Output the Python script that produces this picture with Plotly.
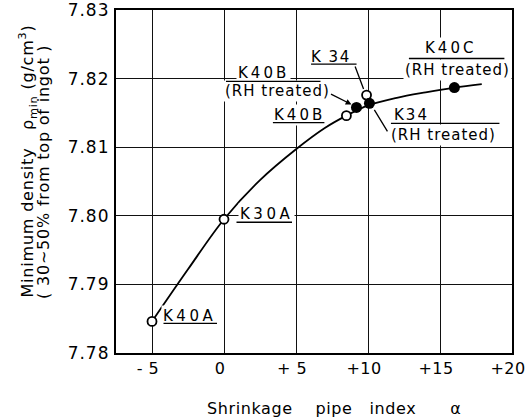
import plotly.graph_objects as go

# ---------------- data ----------------
open_names = ["K40A", "K30A", "K40B", "K 34"]
open_x = [-5.0, 0.0, 8.5, 9.9]
open_y = [7.7846, 7.7995, 7.8146, 7.8176]

rh_names = ["K40B", "K34", "K40C"]
rh_sub = ["(RH treated)", "(RH treated)", "(RH treated)"]
rh_x = [9.2, 10.1, 16.0]
rh_y = [7.8158, 7.8164, 7.8187]

curve_x = [-5.0, -2.5, 0.0, 2.5, 5.0, 7.0, 8.5, 10.0, 12.0, 14.0, 16.0, 17.9]
curve_y = [7.7846, 7.7922, 7.7995, 7.8052, 7.8097, 7.8128, 7.8146, 7.8161, 7.8172, 7.8180, 7.8187, 7.8192]

x_ticks = [-5, 0, 5, 10, 15, 20]
x_ticklabels = ["- 5", "0", "+ 5", "+10", "+15", "+20"]
y_ticks = [7.78, 7.79, 7.80, 7.81, 7.82, 7.83]
y_ticklabels = ["7.78", "7.79", "7.80", "7.81", "7.82", "7.83"]

x_title = "Shrinkage    pipe   index      α"
y_title_1 = "Minimum density   ρ<sub>min</sub> (g/cm<sup>3</sup>)"
y_title_2 = "( 30~50% from top of ingot )"

X_RANGE = [-7.5, 20]
Y_RANGE = [7.78, 7.83]
FONT = "DejaVu Sans"


def ls(text, px):
    return f'<span style="letter-spacing:{px}px">{text}</span>'


fig = go.Figure()

fig.add_trace(go.Scatter(
    x=curve_x, y=curve_y, mode="lines", line=dict(color="black", width=1.8, shape="spline", smoothing=1.0),
    hoverinfo="skip", showlegend=False))
fig.add_trace(go.Scatter(
    x=open_x, y=open_y, mode="markers",
    marker=dict(symbol="circle", size=9, color="white", line=dict(color="black", width=1.8)),
    showlegend=False))
fig.add_trace(go.Scatter(
    x=rh_x, y=rh_y, mode="markers",
    marker=dict(symbol="circle", size=11, color="black", line=dict(color="black", width=0)),
    showlegend=False))

annotations = []


def text_ann(x, y, dx, dy, text, spacing, size=15):
    annotations.append(dict(
        x=x, y=y, xref="x", yref="y", xshift=dx, yshift=-dy, text=ls(text, spacing),
        showarrow=False, xanchor="center", yanchor="middle", bgcolor="white", borderpad=1,
        font=dict(family=FONT, size=size, color="black")))


line_anns = []


def seg(x, y, h, t, head=0):
    # h, t = (dx, dy) pixel offsets (screen down positive) of arrow head and tail from point
    line_anns.append(dict(
        x=x, y=y, xref="x", yref="y", xshift=h[0], yshift=-h[1], text="",
        showarrow=True, ax=t[0] - h[0], ay=t[1] - h[1], axref="pixel", ayref="pixel",
        arrowhead=head, arrowsize=0.9, arrowwidth=1.3, arrowcolor="black", standoff=0, startstandoff=0))


# open-circle labels
text_ann(open_x[0], open_y[0], 37, -5, open_names[0], 3.5)
seg(open_x[0], open_y[0], (65, 2), (10, 2))
text_ann(open_x[1], open_y[1], 42, -5, open_names[1], 3.5)
seg(open_x[1], open_y[1], (68, 3), (11, 3))
text_ann(open_x[2], open_y[2], -47, -1, open_names[2], 3)
seg(open_x[2], open_y[2], (-22, 7), (-75, 7))
text_ann(open_x[3], open_y[3], -36, -38, open_names[3], 1.5)
seg(open_x[3], open_y[3], (-10, -31), (-57, -31))
seg(open_x[3], open_y[3], (-3, -6), (-12, -30))

# RH treated labels
text_ann(rh_x[0], rh_y[0], -93, -34, rh_names[0], 3)
text_ann(rh_x[0], rh_y[0], -79, -16, rh_sub[0], 1)
seg(rh_x[0], rh_y[0], (-36, -26), (-132, -26))
seg(rh_x[0], rh_y[0], (-5, -3), (-27, -14), head=2)

text_ann(rh_x[1], rh_y[1], 42, 12, rh_names[1], 2)
text_ann(rh_x[1], rh_y[1], 74, 32, rh_sub[1], 1)
seg(rh_x[1], rh_y[1], (130, 20), (20, 20))
seg(rh_x[1], rh_y[1], (18, 28), (4, 5))

text_ann(rh_x[2], rh_y[2], -4, -40, rh_names[2], 3)
text_ann(rh_x[2], rh_y[2], 3, -18, rh_sub[2], 1)
seg(rh_x[2], rh_y[2], (50, -29), (-47, -29))

# axis titles
annotations.append(dict(
    x=0.552, y=0, xref="paper", yref="paper", yshift=-55, text=ls(x_title, 0.6), showarrow=False,
    xanchor="center", yanchor="middle", font=dict(family=FONT, size=16, color="black")))
annotations.append(dict(
    x=0, y=1 - (161.5 - 10) / 343, xref="paper", yref="paper", xshift=28 - 116, text=ls(y_title_1, 0.8),
    showarrow=False, textangle=-90, xanchor="center", yanchor="middle",
    font=dict(family=FONT, size=16, color="black")))
annotations.append(dict(
    x=0, y=1 - (172 - 10) / 343, xref="paper", yref="paper", xshift=44 - 116, text=ls(y_title_2, 0.8),
    showarrow=False, textangle=-90, xanchor="center", yanchor="middle",
    font=dict(family=FONT, size=16, color="black")))

fig.update_layout(
    template="none",
    width=526, height=420, margin=dict(l=116, r=14, t=10, b=67),
    paper_bgcolor="white", plot_bgcolor="white",
    font=dict(family=FONT, color="black"),
    annotations=annotations + line_anns,
    showlegend=False,
)
fig.update_xaxes(
    range=X_RANGE, tickmode="array", tickvals=x_ticks, ticktext=[ls(t, 0.5) for t in x_ticklabels],
    tickfont=dict(family=FONT, size=16, color="black"),
    showgrid=True, gridcolor="#111", gridwidth=1, zeroline=False,
    showline=True, linecolor="black", linewidth=2.2, mirror=True, ticks="",
    ticklabelstandoff=0, ticklabelshift=-4, ticklabeloverflow="allow", automargin=False,
)
fig.update_yaxes(
    range=Y_RANGE, tickmode="array", tickvals=y_ticks, ticktext=[ls(t, 1) for t in y_ticklabels],
    tickfont=dict(family=FONT, size=17, color="black"),
    showgrid=True, gridcolor="#111", gridwidth=1, zeroline=False,
    showline=True, linecolor="black", linewidth=2.2, mirror=True, ticks="",
    ticklabelstandoff=1, ticklabeloverflow="allow", automargin=False,
)

fig.write_html("out.html")
